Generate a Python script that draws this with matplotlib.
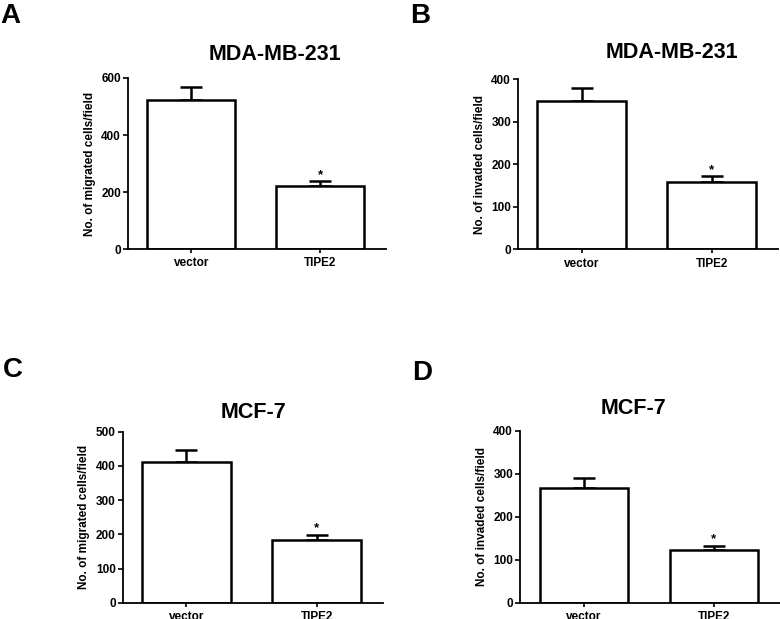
import matplotlib
matplotlib.use("Agg")
import matplotlib.pyplot as plt

plt.rcParams['font.family'] = ['Liberation Sans', 'DejaVu Sans']
plt.rcParams['font.weight'] = 'bold'

groups = ["vector", "TIPE2"]

mda_migrated = [523, 222]
mda_migrated_err = [44, 17]
mda_invaded = [348, 158]
mda_invaded_err = [31, 14]
mcf_migrated = [412, 183]
mcf_migrated_err = [35, 16]
mcf_invaded = [266, 122]
mcf_invaded_err = [24, 11]

panels = [
    dict(letter="A", title="MDA-MB-231", ylabel="No. of migrated cells/field",
         vals=mda_migrated, err=mda_migrated_err, ymax=600, step=200,
         rect=[0.1641, 0.5977, 0.3308, 0.2763],
         letter_xy=(0.0, 0.995), title_xy=(275, 55)),
    dict(letter="B", title="MDA-MB-231", ylabel="No. of invaded cells/field",
         vals=mda_invaded, err=mda_invaded_err, ymax=400, step=100,
         rect=[0.6641, 0.5972, 0.3333, 0.2746],
         letter_xy=(410 / 780, 0.995), title_xy=(672, 52)),
    dict(letter="C", title="MCF-7", ylabel="No. of migrated cells/field",
         vals=mcf_migrated, err=mcf_migrated_err, ymax=500, step=100,
         rect=[0.1573, 0.0263, 0.3337, 0.2763],
         letter_xy=(3 / 780, 1 - 357 / 619), title_xy=(253, 412)),
    dict(letter="D", title="MCF-7", ylabel="No. of invaded cells/field",
         vals=mcf_invaded, err=mcf_invaded_err, ymax=400, step=100,
         rect=[0.6667, 0.0263, 0.3333, 0.2779],
         letter_xy=(412 / 780, 1 - 360 / 619), title_xy=(633, 408)),
]

fig = plt.figure(figsize=(7.8, 6.19), dpi=100)

for p in panels:
    ax = fig.add_axes(p["rect"])
    x = [0, 1]
    ax.bar(x, p["vals"], width=0.68, color="white", edgecolor="black",
           linewidth=1.8, zorder=2)
    for xi, v, e in zip(x, p["vals"], p["err"]):
        ax.errorbar(xi, v, yerr=[[0], [e]], fmt="none", ecolor="black",
                    elinewidth=1.8, capsize=8, capthick=1.8, zorder=1)
    ax.text(1, p["vals"][1] + p["err"][1], "*",
            ha="center", va="bottom", fontsize=9.5, fontweight="bold")
    ax.set_xlim(-0.49, 1.51)
    ax.set_ylim(0, p["ymax"])
    ax.set_yticks(range(0, p["ymax"] + 1, p["step"]))
    ax.set_xticks(x)
    ax.set_xticklabels(groups, fontsize=8.5, fontweight="bold")
    ax.tick_params(axis="x", length=3, width=1.2, pad=3)
    ax.tick_params(axis="y", length=3.5, width=1.2, labelsize=8.5, pad=1.5)
    for lab in ax.get_yticklabels():
        lab.set_fontweight("bold")
    ax.set_ylabel(p["ylabel"], fontsize=8.5, fontweight="bold", labelpad=4)
    ax.spines["top"].set_visible(False)
    ax.spines["right"].set_visible(False)
    ax.spines["left"].set_linewidth(1.3)
    ax.spines["bottom"].set_linewidth(1.3)
    fig.text(p["letter_xy"][0], p["letter_xy"][1], p["letter"], fontsize=20,
             fontweight="bold", ha="left", va="top")
    fig.text(p["title_xy"][0] / 780, 1 - p["title_xy"][1] / 619, p["title"],
             fontsize=15.5, fontweight="bold", ha="center", va="center")

fig.savefig("out.png", dpi=100, facecolor="white")
